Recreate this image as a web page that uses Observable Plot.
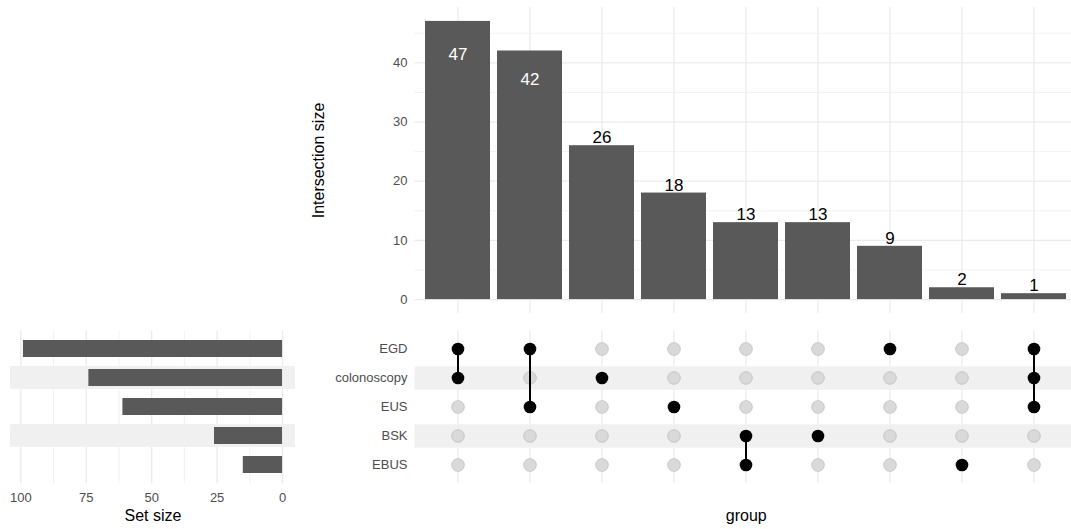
<!DOCTYPE html>
<html><head><meta charset="utf-8">
<script src="https://cdn.jsdelivr.net/npm/d3@7"></script>
<script src="https://cdn.jsdelivr.net/npm/@observablehq/plot@0.6"></script>
<style>
html,body{margin:0;padding:0;background:#fff;overflow:hidden;}
#chart{position:relative;width:1071px;height:529px;}
#chart svg{position:absolute;left:0;top:0;}
</style></head><body><div id="chart"></div>
<script>
// ---- data ----
const sets = ["EGD", "colonoscopy", "EUS", "BSK", "EBUS"];
const setSizes = [99, 74, 61, 26, 15];
const intersectionIds = ["EGD&colonoscopy", "EGD&EUS", "colonoscopy", "EUS", "BSK&EBUS", "BSK", "EGD", "EBUS", "EGD&colonoscopy&EUS"];
const intersectionMembers = [["EGD","colonoscopy"], ["EGD","EUS"], ["colonoscopy"], ["EUS"], ["BSK","EBUS"], ["BSK"], ["EGD"], ["EBUS"], ["EGD","colonoscopy","EUS"]];
const intersectionSizes = [47, 42, 26, 18, 13, 13, 9, 2, 1];
const intersectionTicks = [0, 10, 20, 30, 40];
const setSizeTicks = [100, 75, 50, 25, 0];

// ---- layout ----
const W = 1071, H = 529;
const colRange = [414.5, 1076.9];
const topPanel = {top: 7, bottom: 313};
const lowPanel = {top: 330.7, bottom: 483.3};
const setPanel = {left: 10, right: 295};
const FONT = "'Liberation Sans', Arial, Helvetica, sans-serif";
const GRID = "#ebebeb", BAR = "#595959", TICK = "#4d4d4d", STRIPE = "#f0f0f0";
const baseStyle = {fontFamily: FONT, fontSize: "13px", background: "transparent", overflow: "visible"};

const bars = intersectionIds.map((id, i) => ({id, size: intersectionSizes[i]}));
const maxSize = d3.max(intersectionSizes);
const yDom = [-0.05 * maxSize, 1.05 * maxSize];
const minorY = d3.range(5, yDom[1], 10);
const insideLabel = d => d.size > 0.85 * maxSize;

const xBand = {type: "band", domain: intersectionIds, range: colRange, paddingInner: 0.1, paddingOuter: 0.15, axis: null};
const yBand = {type: "band", domain: sets, paddingInner: 0.4, paddingOuter: 0.3};

const A = Plot.plot({
  width: W, height: H,
  marginLeft: colRange[0], marginRight: 0, marginTop: topPanel.top, marginBottom: H - topPanel.bottom,
  style: baseStyle,
  x: xBand,
  y: {domain: yDom},
  marks: [
    Plot.gridY(minorY, {stroke: GRID, strokeOpacity: 1, strokeWidth: 0.7}),
    Plot.gridY(intersectionTicks, {stroke: GRID, strokeOpacity: 1, strokeWidth: 1.3}),
    Plot.gridX(intersectionIds, {stroke: GRID, strokeOpacity: 1, strokeWidth: 1.3}),
    Plot.barY(bars, {x: "id", y: "size", fill: BAR}),
    Plot.text(bars.filter(insideLabel), {x: "id", y: d => d.size * 0.863, text: d => String(d.size), fill: "white", fontSize: 17, lineAnchor: "bottom"}),
    Plot.text(bars.filter(d => !insideLabel(d)), {x: "id", y: "size", text: d => String(d.size), fill: "black", fontSize: 17, lineAnchor: "bottom", dy: -2.3}),
    Plot.axisY(intersectionTicks, {tickSize: 0, tickPadding: 7.5, fontSize: 13, color: TICK, label: null}),
    Plot.text(["Intersection size"], {text: d => d, frameAnchor: "left", textAnchor: "middle", lineAnchor: "middle", dx: -96.5, rotate: -90, fontSize: 16, fill: "black"})
  ]
});

const setData = sets.map((s, i) => ({set: s, size: setSizes[i]}));
const maxSet = d3.max(setSizes);
const xSetDom = [1.05 * maxSet, -0.05 * maxSet];
const stripeSets = sets.filter((s, i) => i % 2 === 1);

const B = Plot.plot({
  width: W, height: H,
  marginLeft: setPanel.left, marginRight: W - setPanel.right, marginTop: lowPanel.top, marginBottom: H - lowPanel.bottom,
  style: baseStyle,
  x: {domain: xSetDom},
  y: {...yBand, axis: null},
  marks: [
    Plot.gridX(d3.range(12.5, 100, 25), {stroke: GRID, strokeOpacity: 1, strokeWidth: 0.7}),
    Plot.gridX(setSizeTicks, {stroke: GRID, strokeOpacity: 1, strokeWidth: 1.3}),
    Plot.barX(stripeSets, {y: d => d, x1: () => xSetDom[0], x2: () => xSetDom[1], insetTop: -2.93, insetBottom: -2.93, fill: STRIPE}),
    Plot.barX(setData, {y: "set", x: "size", fill: BAR}),
    Plot.axisX(setSizeTicks, {tickSize: 0, tickPadding: 9.4, fontSize: 13, color: TICK, label: null}),
    Plot.text(["Set size"], {text: d => d, frameAnchor: "bottom", dy: 37.4, lineAnchor: "bottom", fontSize: 16, fill: "black"})
  ]
});

const cells = [];
intersectionIds.forEach((id, i) => sets.forEach(s => cells.push({id, set: s, active: intersectionMembers[i].includes(s)})));
const links = intersectionIds.map((id, i) => {
  const idx = intersectionMembers[i].map(s => sets.indexOf(s));
  return {id, top: sets[d3.min(idx)], bottom: sets[d3.max(idx)]};
}).filter(d => d.top !== d.bottom);

const C = Plot.plot({
  width: W, height: H,
  marginLeft: colRange[0], marginRight: 0, marginTop: lowPanel.top, marginBottom: H - lowPanel.bottom,
  style: baseStyle,
  x: xBand,
  y: yBand,
  marks: [
    Plot.gridX(intersectionIds, {stroke: GRID, strokeOpacity: 1, strokeWidth: 1.3}),
    Plot.ruleY(stripeSets, {y: d => d, stroke: STRIPE, strokeWidth: 23.5}),
    Plot.dot(cells.filter(d => !d.active), {x: "id", y: "set", r: 6.3, fill: "#d9d9d9", stroke: "#c2c2c2", strokeWidth: 0.9}),
    Plot.link(links, {x1: "id", x2: "id", y1: "top", y2: "bottom", stroke: "black", strokeWidth: 2}),
    Plot.dot(cells.filter(d => d.active), {x: "id", y: "set", r: 6.3, fill: "black"}),
    Plot.axisY(sets, {tickSize: 0, tickPadding: 7.5, fontSize: 13, color: TICK, label: null}),
    Plot.text(["group"], {text: d => d, frameAnchor: "bottom", dx: 3, dy: 37.4, lineAnchor: "bottom", fontSize: 16, fill: "black"})
  ]
});

const root = document.getElementById("chart");
root.append(B, C, A);
</script></body></html>
